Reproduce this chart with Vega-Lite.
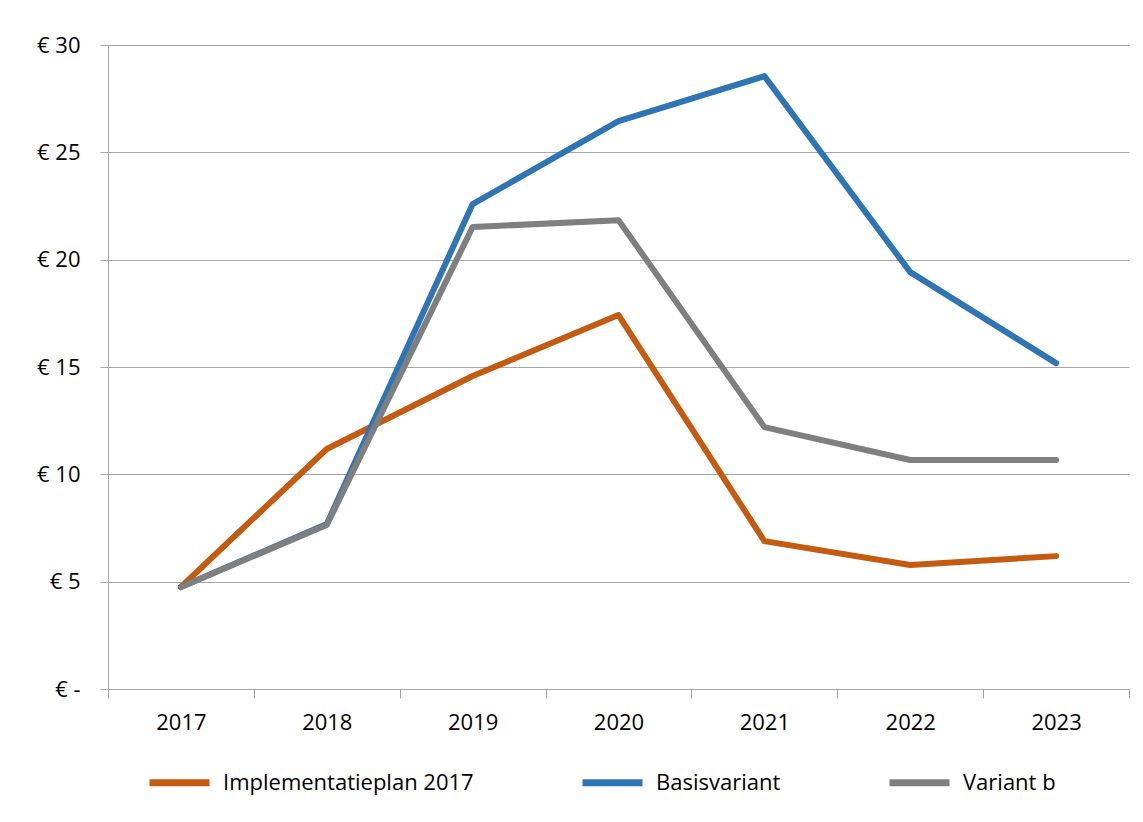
{
  "$schema": "https://vega.github.io/schema/vega-lite/v6.json",
  "width": 1021,
  "height": 644,
  "autosize": {"type": "none"},
  "padding": {"left": 108, "top": 45, "right": 14, "bottom": 133},
  "background": "white",
  "config": {
    "font": "Open Sans",
    "view": {"stroke": null},
    "axis": {"labelFont": "Open Sans", "labelFontSize": 22, "labelColor": "#000000", "domainColor": "#a6a6a6", "tickColor": "#a6a6a6", "gridColor": "#a6a6a6", "domainWidth": 1, "tickWidth": 1, "gridWidth": 1}
  },
  "data": {
    "values": [
      {"jaar": "2017", "serie": "Implementatieplan 2017", "waarde": 4.75},
      {"jaar": "2018", "serie": "Implementatieplan 2017", "waarde": 11.18},
      {"jaar": "2019", "serie": "Implementatieplan 2017", "waarde": 14.58},
      {"jaar": "2020", "serie": "Implementatieplan 2017", "waarde": 17.42},
      {"jaar": "2021", "serie": "Implementatieplan 2017", "waarde": 6.89},
      {"jaar": "2022", "serie": "Implementatieplan 2017", "waarde": 5.78},
      {"jaar": "2023", "serie": "Implementatieplan 2017", "waarde": 6.19},
      {"jaar": "2017", "serie": "Basisvariant", "waarde": 4.75},
      {"jaar": "2018", "serie": "Basisvariant", "waarde": 7.69},
      {"jaar": "2019", "serie": "Basisvariant", "waarde": 22.59},
      {"jaar": "2020", "serie": "Basisvariant", "waarde": 26.45},
      {"jaar": "2021", "serie": "Basisvariant", "waarde": 28.55},
      {"jaar": "2022", "serie": "Basisvariant", "waarde": 19.42},
      {"jaar": "2023", "serie": "Basisvariant", "waarde": 15.18},
      {"jaar": "2017", "serie": "Variant b", "waarde": 4.75},
      {"jaar": "2018", "serie": "Variant b", "waarde": 7.64},
      {"jaar": "2019", "serie": "Variant b", "waarde": 21.52},
      {"jaar": "2020", "serie": "Variant b", "waarde": 21.84},
      {"jaar": "2021", "serie": "Variant b", "waarde": 12.2},
      {"jaar": "2022", "serie": "Variant b", "waarde": 10.67},
      {"jaar": "2023", "serie": "Variant b", "waarde": 10.67}
    ]
  },
  "mark": {"type": "line", "strokeWidth": 6, "strokeCap": "round", "strokeJoin": "round"},
  "encoding": {
    "x": {
      "field": "jaar", "type": "ordinal",
      "scale": {"type": "band", "paddingInner": 0, "paddingOuter": 0},
      "axis": {"title": null, "labelAngle": 0, "tickBand": "extent", "tickSize": 9, "labelPadding": 14, "grid": false}
    },
    "y": {
      "field": "waarde", "type": "quantitative",
      "scale": {"domain": [0, 30], "nice": false, "zero": true},
      "axis": {"title": null, "values": [0, 5, 10, 15, 20, 25, 30], "tickSize": 8, "labelPadding": 20, "grid": true,
        "labelExpr": "datum.value == 0 ? '€ -' : '€ ' + datum.value"}
    },
    "color": {
      "field": "serie", "type": "nominal",
      "sort": ["Implementatieplan 2017", "Basisvariant", "Variant b"],
      "scale": {"domain": ["Implementatieplan 2017", "Basisvariant", "Variant b"], "range": ["#C55A11", "#2E75B6", "#7F7F7F"]},
      "legend": {
        "title": null, "orient": "none", "direction": "horizontal",
        "legendX": 38, "legendY": 704,
        "symbolType": "stroke", "symbolSize": 3600, "symbolStrokeWidth": 7,
        "labelFont": "Open Sans", "labelFontSize": 22, "labelColor": "#000000", "labelOffset": 10,
        "columnPadding": 94, "labelLimit": 400
      }
    }
  }
}
